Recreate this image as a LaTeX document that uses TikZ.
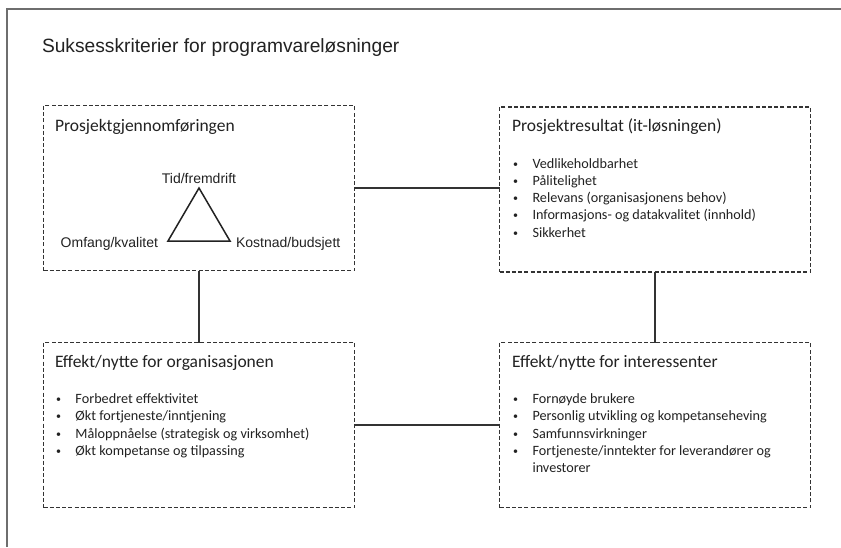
\documentclass[tikz,border=0pt]{standalone}
\usepackage{fontspec}
\setmainfont{Carlito}
\newfontfamily\arialfont{Liberation Sans}
\definecolor{ink}{HTML}{222222}
\definecolor{frame}{HTML}{6E6E6E}
\definecolor{boxline}{HTML}{333333}
\begin{document}
\begin{tikzpicture}[x=1pt,y=-1pt,
  every node/.style={inner sep=0pt, outer sep=0pt, text=ink},
  box/.style={draw=boxline, line width=1.6pt, dash pattern=on 4pt off 2.2pt, minimum width=311pt, minimum height=165pt},
  link/.style={draw=boxline, line width=2pt},
  boxtitle/.style={anchor=base west, font=\fontsize{17.5}{21}\selectfont},
  items/.style={anchor=north west, align=left, font=\fontsize{14.2}{17.3}\selectfont},
  trilabel/.style={font=\arialfont\fontsize{14}{16}\selectfont}]
\useasboundingbox (0,0) rectangle (841,547);
\fill[white] (0,0) rectangle (841,547);
% page frame: only its top and left edges are in view
\draw[frame, line width=2pt] (7,547) -- (7,9) -- (841,9);
\node[anchor=base west, font=\arialfont\fontsize{19.2}{22}\selectfont] (title) at (42,52) {Suksesskriterier for programvareløsninger};

% the four areas
\node[box] (b1) at (199,188) {};
\node[box] (b2) at (655,189.5) {};
\node[box] (b3) at (199,425) {};
\node[box] (b4) at (655,425) {};

% connectors between the areas
\draw[link] (b1.east) -- (b2.west |- b1.east);
\draw[link] (b1.south) -- (b3.north);
\draw[link] (b2.south) -- (b4.north);
\draw[link] (b3.east) -- (b4.west);

% bullet item; the first one carries a fixed-height strut so the list top is predictable
\newcommand{\itm}[1]{\makebox[19.5pt][l]{\raisebox{1pt}{\fontsize{10}{10}\selectfont\textbullet}}#1}
\newcommand{\firstitm}[1]{\rule{0pt}{12pt}\itm{#1}}

% project execution with the iron triangle
\node[boxtitle] (t1) at (55,131) {Prosjektgjennomføringen};
\coordinate (tA) at (199,188);
\coordinate (tL) at (168,241);
\coordinate (tR) at (230,241);
\draw[draw=ink, line width=1.5pt, line join=miter] (tA) -- (tL) -- (tR) -- cycle;
\node[trilabel, anchor=base] (lt) at (199,183) {Tid/fremdrift};
\node[trilabel, anchor=base east] (ll) at (158,247) {Omfang/kvalitet};
\node[trilabel, anchor=base west] (lr) at (236,247) {Kostnad/budsjett};

% project result
\node[boxtitle] (t2) at (512,131) {Prosjektresultat (it-løsningen)};
\node[items] (i2) at (513,156) {\firstitm{Vedlikeholdbarhet}\\ \itm{Pålitelighet}\\ \itm{Relevans (organisasjonens behov)}\\ \itm{Informasjons- og datakvalitet (innhold)}\\ \itm{Sikkerhet}};

% benefit for the organisation
\node[boxtitle] (t3) at (55,367) {Effekt/nytte for organisasjonen};
\node[items] (i3) at (56,391.5) {\firstitm{Forbedret effektivitet}\\ \itm{Økt fortjeneste/inntjening}\\ \itm{Måloppnåelse (strategisk og virksomhet)}\\ \itm{Økt kompetanse og tilpassing}};

% benefit for stakeholders
\node[boxtitle] (t4) at (512,367) {Effekt/nytte for interessenter};
\node[items] (i4) at (513,391.5) {\firstitm{Fornøyde brukere}\\ \itm{Personlig utvikling og kompetanseheving}\\ \itm{Samfunnsvirkninger}\\ \itm{Fortjeneste/inntekter for leverandører og}\\ \hspace*{19.5pt}investorer};
\end{tikzpicture}
\end{document}
